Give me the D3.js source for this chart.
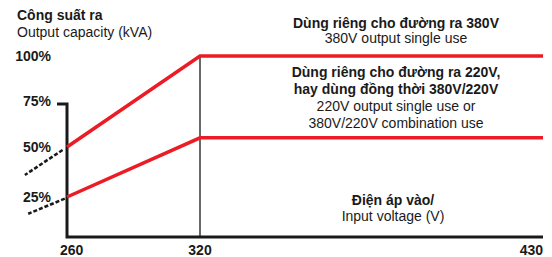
<!DOCTYPE html>
<html><head><meta charset="utf-8">
<script src="https://cdn.jsdelivr.net/npm/d3@7"></script>
<style>
body{margin:0;background:#fff;}
text{font-family:"Liberation Sans","Arial",sans-serif;fill:#1a1a1a;}
</style></head><body>
<svg id="c" width="552" height="257"></svg>
<script>
// ---- data ----
const xTicks = [260, 320, 430];
const yTicks = [25, 50, 75, 100];
const yTickLabels = ["25%", "50%", "75%", "100%"];
const voltage = [260, 320, 430];
const use380 = [50, 100, 100];          // 380V single use
const use220 = [25, 55, 55];            // 220V single use / combination
const dash380 = [[258, 48.5], [241, 36]];
const dash220 = [[259, 24], [242.5, 14.5]];
const yTitle = ["Công suất ra", "Output capacity (kVA)"];
const xTitle = ["Điện áp vào/", "Input voltage (V)"];
const label380 = ["Dùng riêng cho đường ra 380V", "380V output single use"];
const label220 = ["Dùng riêng cho đường ra 220V,", "hay dùng đồng thời 380V/220V", "220V output single use or", "380V/220V combination use"];

const svg = d3.select("#c");
const x = d3.scaleLinear().domain([260, 320, 430]).range([67, 200, 543]);
const y = d3.scaleLinear().domain([0, 25, 50, 75, 100]).range([237, 197, 147, 101, 56]);
const red = "#ec1c24", ink = "#1a1a1a";

// vertical reference at 320
svg.append("line").attr("x1", x(320)).attr("x2", x(320))
  .attr("y1", y(100)).attr("y2", y(0)).attr("stroke", ink).attr("stroke-width", 1.3);

// axes
svg.append("path").attr("fill", "none").attr("stroke", ink).attr("stroke-width", 3)
  .attr("d", `M${x(260) - 10},${y(75) + 3}H${x(260)}V${y(0)}H${x(430)}`);

// red lines
const line = d3.line().x(d => x(d[0])).y(d => y(d[1]));
[use380, use220].forEach(s => {
  svg.append("path").datum(voltage.map((v, i) => [v, s[i]]))
    .attr("d", line).attr("fill", "none").attr("stroke", red).attr("stroke-width", 3.5);
});
// dashed extensions
[dash380, dash220].forEach(d => {
  svg.append("path").datum(d).attr("d", line).attr("fill", "none")
    .attr("stroke", ink).attr("stroke-width", 2.6).attr("stroke-dasharray", "4,2");
});

// y tick labels
svg.selectAll(".yl").data(yTicks).join("text")
  .attr("x", 51).attr("y", d => y(d)).attr("dy", "0.36em")
  .attr("text-anchor", "end").attr("font-weight", "bold").attr("font-size", 14)
  .text((d, i) => yTickLabels[i]);

// x tick labels
svg.selectAll(".xl").data(xTicks).join("text")
  .attr("x", (d, i) => i === 0 ? x(d) - 7 : x(d))
  .attr("y", 255)
  .attr("text-anchor", (d, i) => i === 0 ? "start" : i === xTicks.length - 1 ? "end" : "middle")
  .attr("font-weight", "bold").attr("font-size", 14).text(d => d);

// y title
svg.append("text").attr("x", 17).attr("y", 20).attr("font-size", 14).attr("font-weight", "bold").text(yTitle[0]);
svg.append("text").attr("x", 17).attr("y", 37).attr("font-size", 14).text(yTitle[1]);

// annotations
const cx = 396;
svg.append("text").attr("x", cx).attr("y", 28).attr("text-anchor", "middle").attr("font-size", 14).attr("font-weight", "bold").text(label380[0]);
svg.append("text").attr("x", cx).attr("y", 43).attr("text-anchor", "middle").attr("font-size", 14).text(label380[1]);
label220.forEach((t, i) => {
  svg.append("text").attr("x", cx).attr("y", 77 + i * 17).attr("text-anchor", "middle")
    .attr("font-size", 14).attr("font-weight", i < 2 ? "bold" : "normal").text(t);
});
xTitle.forEach((t, i) => {
  svg.append("text").attr("x", 393).attr("y", 205 + i * 16).attr("text-anchor", "middle")
    .attr("font-size", 14).attr("font-weight", i === 0 ? "bold" : "normal").text(t);
});
</script></body></html>
